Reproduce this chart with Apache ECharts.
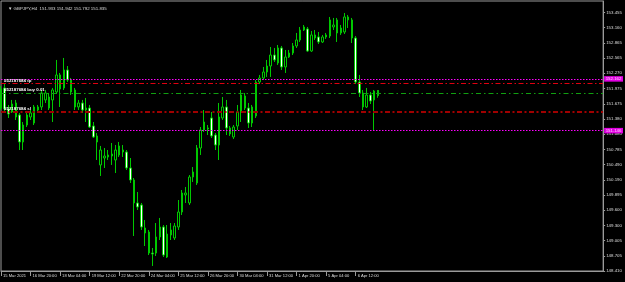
<!DOCTYPE html>
<html><head><meta charset="utf-8">
<script src="https://cdn.jsdelivr.net/npm/echarts@6/dist/echarts.min.js"></script>
<style>html,body{margin:0;padding:0;background:#000;}#c{width:625px;height:282px;}</style>
</head><body><div id="c"></div>
<script>
// ---- data (GBPJPY H4, from 15 Mar 2021 12:00) ----
const opens = [151.592,151.983,151.573,151.514,151.690,151.456,150.929,151.260,151.417,151.299,
151.553,151.612,151.749,151.807,151.749,151.905,152.237,151.983,152.334,152.139,
151.944,151.612,151.690,151.553,151.592,151.241,151.046,150.480,150.616,150.636,
150.655,150.577,150.675,150.733,150.733,150.421,150.187,149.738,149.699,149.250,
149.171,148.761,148.761,149.074,149.269,148.683,149.113,149.054,149.269,149.562,
149.894,149.738,150.245,150.128,150.811,151.163,151.182,151.397,151.065,150.870,
151.397,151.612,151.202,151.026,151.241,151.514,151.827,151.592,151.299,151.436,
152.100,152.178,152.295,152.412,152.627,152.471,152.764,152.393,152.588,152.666,
152.803,152.920,153.115,153.135,152.705,153.018,152.979,152.881,153.018,152.998,
153.174,153.311,153.057,153.076,153.311,153.311,152.959,152.100,151.885,151.612,
151.846,151.749,151.933];
const closes = [151.963,151.573,151.475,151.670,151.417,150.929,151.260,151.456,151.495,151.612,
151.612,151.885,151.885,151.592,151.944,152.237,151.963,152.334,152.139,151.905,
151.612,151.690,151.553,151.592,151.221,151.026,150.929,150.772,150.655,150.675,
150.694,150.772,150.851,150.772,150.421,150.187,149.738,149.660,149.269,149.152,
148.761,148.742,149.074,149.269,148.722,149.132,149.211,149.289,149.562,149.933,
149.933,150.245,150.343,150.811,151.163,151.319,151.202,151.046,150.870,151.417,
151.612,151.202,151.085,151.221,151.514,151.846,151.592,151.299,151.612,152.100,
152.178,152.295,152.412,152.627,152.530,152.764,152.393,152.588,152.666,152.803,
152.920,153.115,153.174,152.705,153.018,152.959,152.881,152.979,152.979,153.311,
153.213,153.057,153.154,153.369,153.369,152.959,152.100,151.885,151.612,151.846,
151.729,151.924,151.835];
const lows = [151.553,151.514,151.397,151.495,151.358,150.772,150.772,151.221,151.358,151.260,
151.514,151.553,151.690,151.553,151.319,151.866,151.612,151.944,152.100,151.846,
151.553,151.553,151.495,151.319,151.202,151.007,150.577,150.265,150.421,150.577,
150.480,150.323,150.636,150.636,150.382,150.128,149.093,149.601,149.211,148.898,
148.722,148.508,148.703,149.015,148.683,148.664,149.015,149.015,149.211,149.503,
149.738,149.699,150.148,150.089,150.675,151.124,151.065,151.007,150.772,150.577,
151.358,151.065,151.046,150.987,151.163,151.319,151.553,151.202,151.221,151.397,
152.061,152.139,152.198,152.198,152.491,152.432,152.334,152.276,152.569,152.627,
152.764,152.881,153.096,152.686,152.686,152.920,152.842,152.861,152.940,152.959,
153.115,152.881,153.018,153.037,153.154,152.861,152.061,151.807,151.553,151.592,
151.670,151.163,151.792];
const highs = [152.022,152.061,151.651,151.749,151.749,151.495,151.319,151.514,151.553,151.651,
151.651,151.944,151.944,151.885,151.983,152.530,152.276,152.569,152.412,152.178,
151.983,151.749,151.749,151.788,151.651,151.319,151.104,150.851,150.811,150.772,
150.909,150.870,150.929,150.870,150.772,150.616,150.226,149.952,149.738,149.406,
149.211,148.859,149.347,149.445,149.308,149.308,149.347,149.347,149.796,149.991,
150.050,150.284,150.440,150.870,151.221,151.553,151.260,151.514,151.104,151.690,
151.807,151.749,151.241,151.260,151.651,151.944,151.885,151.690,151.651,152.139,
152.237,152.393,152.530,152.783,152.764,152.822,152.803,152.725,152.725,152.861,
153.057,153.174,153.213,153.174,153.096,153.115,153.076,153.018,153.057,153.369,
153.350,153.350,153.213,153.447,153.408,153.350,152.998,152.237,151.944,151.983,
151.905,151.944,151.942];
const xTickLabels = ['15 Mar 2021','16 Mar 20:00','18 Mar 04:00','19 Mar 12:00','22 Mar 20:00','24 Mar 04:00',
  '25 Mar 12:00','26 Mar 20:00','30 Mar 04:00','31 Mar 12:00','1 Apr 20:00','5 Apr 04:00','6 Apr 12:00'];
const xTickStep = 8;
const slotCount = 164;
const yTickLabels = [148.410,148.705,149.005,149.300,149.600,149.895,150.190,150.490,150.785,151.080,
  151.380,151.675,151.975,152.270,152.565,152.865,153.160,153.455];
const yMin = 148.410, yMax = 153.681;
const levelPrices = [152.162, 152.075, 151.879, 151.520, 151.146];
const levelLeftText = ['', '#52187684 tp', '#52187684 buy 0.01', '#52187684 sl', ''];
const levelRightText = ['152.162', '', '', '', '151.146'];
const bidPrice = 151.835;
const headerText = '\u25BC GBPJPY,H4  151.933 151.942 151.792 151.835';

// ---- build ----
const FONT = 'Liberation Sans';
const categories = Array.from({length: slotCount}, (_, i) => String(i));
const candleData = opens.map((o, i) => [o, closes[i], lows[i], highs[i]]);
const levelStyles = [
  {color:'#ff00ff', width:1, type:[1.5,1.5]},
  {color:'#e00010', width:1, type:[5,2.5,1.5,2.5]},
  {color:'#10a010', width:1, type:[5,3,1.5,3]},
  {color:'#a00000', width:2, type:[5,2.5,2,2.5]},
  {color:'#ff00ff', width:1, type:[1.5,1.5]}
];
const markData = levelPrices.map((p, k) => {
  const item = {yAxis: p, lineStyle: levelStyles[k]};
  if (levelLeftText[k]) {
    item.label = {show:true, position:'insideStartTop', formatter: levelLeftText[k], color:'#ffffff',
      fontSize:4.4, fontWeight:'bold', fontFamily:FONT, distance:[3,1]};
  } else if (levelRightText[k]) {
    item.label = {show:true, position:'end', formatter: levelRightText[k], color:'#ffd8ff',
      backgroundColor:'#e000e0', padding:[1,1.5,0.5,1.5], fontSize:4.4, fontFamily:FONT, distance:1};
  } else item.label = {show:false};
  return item;
});
markData.push({yAxis: bidPrice, lineStyle:{opacity:0, width:0},
  label:{show:true, position:'end', formatter: bidPrice.toFixed(3), color:'#000', backgroundColor:'#ffffff',
    padding:[1,1.5,0.5,1.5], fontSize:4.4, fontFamily:FONT, distance:1}});

const showTick = (idx) => idx % xTickStep === 0 && idx / xTickStep < xTickLabels.length;
const chart = echarts.init(document.getElementById('c'), null, {renderer:'canvas'});
chart.setOption({
  animation:false,
  backgroundColor:'#000000',
  title:{text: headerText, left:3, top:2, textStyle:{color:'#dddddd', fontSize:4.4, fontWeight:'normal', fontFamily:FONT}},
  grid:{left:1, right:21, top:1, bottom:11, show:true, borderColor:'#9a9a9a', borderWidth:1},
  xAxis:{type:'category', data:categories, boundaryGap:false,
    axisLine:{show:true, lineStyle:{color:'#9a9a9a'}},
    axisTick:{show:true, interval:(i)=>showTick(i), length:5, lineStyle:{color:'#9a9a9a'}},
    axisLabel:{interval:(i)=>showTick(i), formatter:(v, i)=> xTickLabels[i / xTickStep] || '',
      align:'left', padding:[0,0,0,2], margin:3, color:'#dddddd', fontSize:4.1, fontFamily:FONT},
    splitLine:{show:false}},
  yAxis:{type:'value', position:'right', min:yMin, max:yMax, scale:true,
    axisLine:{show:true, lineStyle:{color:'#9a9a9a'}},
    axisTick:{show:true, length:2, customValues:yTickLabels, lineStyle:{color:'#9a9a9a'}},
    axisLabel:{customValues:yTickLabels, formatter:(v)=>v.toFixed(3), margin:3, color:'#dddddd', fontSize:4.4, fontFamily:FONT},
    splitLine:{show:false}},
  series:[{
    type:'candlestick', data:candleData, barWidth:2,
    itemStyle:{color:'#000000', color0:'#ffffff', borderColor:'#00c800', borderColor0:'#00c800', borderWidth:1},
    markLine:{silent:true, symbol:['none','none'], animation:false, data:markData}
  }]
});
</script></body></html>
